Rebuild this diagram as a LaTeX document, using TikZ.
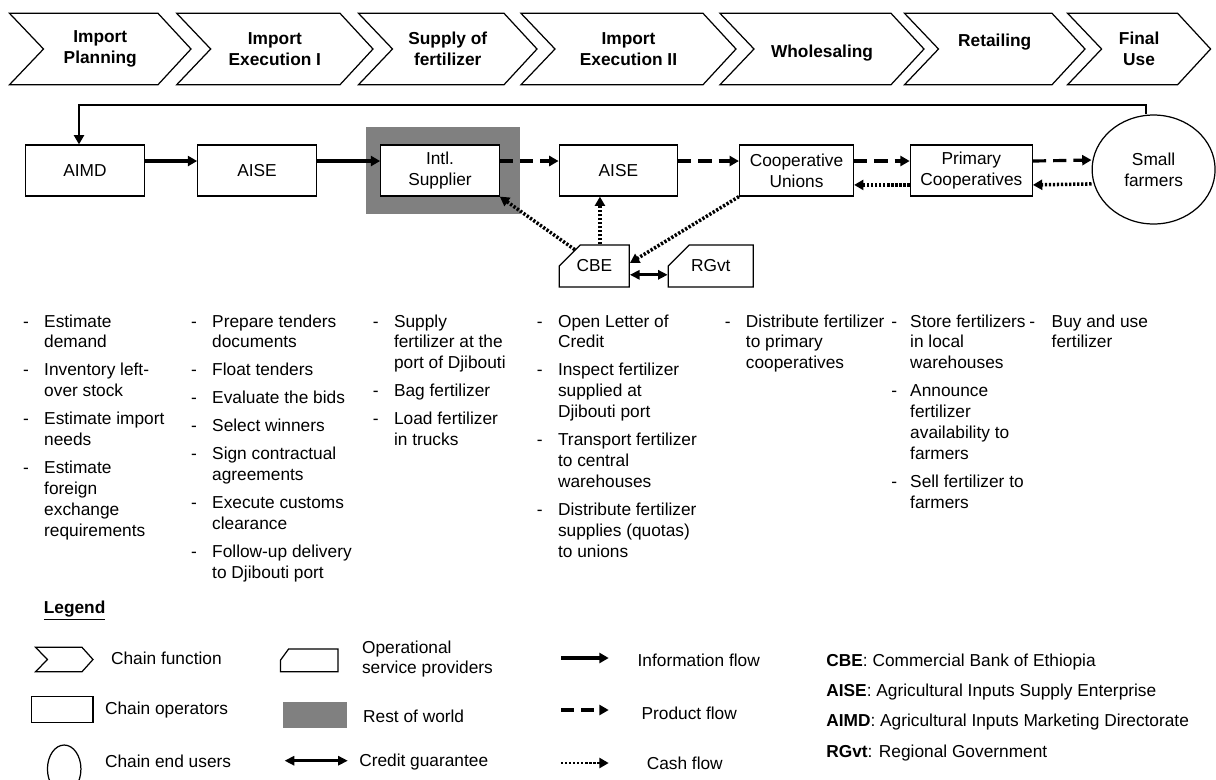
\documentclass[tikz,border=0pt]{standalone}
\usepackage{fontspec}
\setmainfont{Liberation Sans}
\usetikzlibrary{arrows.meta,shapes.geometric,shapes.misc}

\newcommand{\dsh}[1][12pt]{\makebox[#1][l]{-}}
\newcommand{\nod}[1][12pt]{\hspace*{#1}}

\begin{document}
\begin{tikzpicture}[x=0.02cm, y=-0.02cm,
        font=\fontsize{9.85}{11.9}\selectfont,
        chev/.style={draw, line width=0.7pt},
        chevtext/.style={font=\fontsize{9.85}{11.9}\selectfont\bfseries, align=center},
        operator/.style={draw, line width=0.7pt, fill=white, align=center, minimum width=2.37cm, minimum height=1.02cm, inner sep=1pt},
        enduser/.style={draw, ellipse, line width=0.7pt, align=center, inner sep=0pt},
        provider/.style={draw, chamfered rectangle, chamfered rectangle corners=north west, chamfered rectangle xsep=9.6pt, chamfered rectangle ysep=8.5pt, line width=0.7pt, inner sep=0pt},
        world/.style={fill=black!50, inner sep=0pt},
        flowtip/.style={-{Triangle[length=5.3pt,width=5.7pt]}},
        info/.style={flowtip, line width=1.8pt},
        product/.style={flowtip, line width=1.8pt, dash pattern=on 7.5pt off 4pt},
        cash/.style={flowtip, line width=2pt, dash pattern=on 1.3pt off 1pt},
        credit/.style={{Triangle[length=5.5pt,width=5.2pt]}-{Triangle[length=5.5pt,width=5.2pt]}, line width=1.6pt},
        steps/.style={anchor=base west, inner sep=0pt},
        legtext/.style={anchor=west, inner sep=0pt, align=left}
    ]
    \useasboundingbox (0,0) rectangle (1216,779);

    % chain functions
    \foreach \lx/\rx/\ly/\nm/\lab in {9.5/158/49/imp/{Import\\Planning}, 176.7/340/49/exe/{Import\\Execution I}, 358.5/504/49/sup/{Supply of\\fertilizer}, 521/703/49/exetwo/{Import\\Execution II}, 720/891/53/whs/{Wholesaling}, 904.5/1052/42/ret/{Retailing}, 1067.6/1177.6/49/fin/{Final\\Use}}{
        \draw[chev] (\lx,13.3) -- (\rx,13.3) -- (\rx+33,49) -- (\rx,84.7) -- (\lx,84.7) -- (\lx+34,49) -- cycle;
        \node[chevtext] (\nm) at ({(\lx+\rx+33)/2},\ly) {\lab};
    }

    % operators
    \node[world, minimum width=3.07cm, minimum height=1.74cm] (row) at (443.2,170.8) {};
    \node[operator] (aimd) at (85,170.5) {AIMD};
    \node[operator] (aise) at (257,170.5) {AISE};
    \node[operator] (intl) at (440,170.5) {Intl.\\Supplier};
    \node[operator] (aisetwo) at (618.4,170.5) {AISE};
    \node[operator, minimum width=2.28cm] (coop) at (796.5,170.5) {Cooperative\\Unions};
    \node[operator, minimum width=2.44cm] (prim) at (971.3,170.5) {Primary\\Cooperatives};
    \node[enduser, minimum width=2.46cm, minimum height=2.18cm] (farm) at (1153.6,169.5) {Small\\farmers};
    \node[provider, minimum width=1.4cm, minimum height=0.73cm] (cbe) at (594.3,266) {CBE};
    \node[provider, minimum width=1.7cm, minimum height=0.73cm] (rgvt) at (710.8,266) {RGvt};

    % flows
    \coordinate (fbtop) at (79,105);
    \coordinate (fbs) at ([xshift=-4.3pt]farm.north);
    \draw[flowtip, line width=1.4pt] (fbs) |- (fbtop) -- (fbtop |- aimd.north);
    \draw[info] ([yshift=5.4pt]aimd.east) -- ([yshift=5.4pt]aise.west);
    \draw[info] ([yshift=5.4pt]aise.east) -- ([yshift=5.4pt]intl.west);
    \draw[product] ([yshift=5.4pt]intl.east) -- ([yshift=5.4pt]aisetwo.west);
    \draw[product] ([yshift=5.4pt]aisetwo.east) -- ([yshift=5.4pt]coop.west);
    \draw[product] ([yshift=5.4pt]coop.east) -- ([yshift=5.4pt]prim.west);
    \draw[product] ([yshift=5.4pt]prim.east) -- ([yshift=5.4pt]farm.west);
    \draw[cash] ([yshift=-8.2pt]farm.west) -- ([yshift=-8.2pt]prim.east);
    \draw[cash] ([yshift=-8.2pt]prim.west) -- ([yshift=-8.2pt]coop.east);
    \draw[cash] (coop.south west) -- ([yshift=1.7pt]cbe.east);
    \draw[cash] (cbe.140) -- (intl.south east);
    \coordinate (cbeup) at ([xshift=3.2pt]cbe.north);
    \draw[cash] (cbeup) -- (cbeup |- aisetwo.south);
    \draw[credit] ([yshift=-5pt]cbe.east) -- ([yshift=-5pt]rgvt.west);

    % activities
    \node[steps] (actimp) at (22.8,327) {\begin{tabular}[t]{@{}l@{}}
        \dsh Estimate\\ \nod demand\\[4pt]
        \dsh Inventory left-\\ \nod over stock\\[4pt]
        \dsh Estimate import\\ \nod needs\\[4pt]
        \dsh Estimate\\ \nod foreign\\ \nod exchange\\ \nod requirements
    \end{tabular}};
    \node[steps] (actexe) at (190.8,327) {\begin{tabular}[t]{@{}l@{}}
        \dsh Prepare tenders\\ \nod documents\\[4pt]
        \dsh Float tenders\\[4pt]
        \dsh Evaluate the bids\\[4pt]
        \dsh Select winners\\[4pt]
        \dsh Sign contractual\\ \nod agreements\\[4pt]
        \dsh Execute customs\\ \nod clearance\\[4pt]
        \dsh Follow-up delivery\\ \nod to Djibouti port
    \end{tabular}};
    \node[steps] (actsup) at (372.6,327) {\begin{tabular}[t]{@{}l@{}}
        \dsh Supply\\ \nod fertilizer at the\\ \nod port of Djibouti\\[4pt]
        \dsh Bag fertilizer\\[4pt]
        \dsh Load fertilizer\\ \nod in trucks
    \end{tabular}};
    \node[steps] (actexetwo) at (536.6,327) {\begin{tabular}[t]{@{}l@{}}
        \dsh Open Letter of\\ \nod Credit\\[4pt]
        \dsh Inspect fertilizer\\ \nod supplied at\\ \nod Djibouti port\\[4pt]
        \dsh Transport fertilizer\\ \nod to central\\ \nod warehouses\\[4pt]
        \dsh Distribute fertilizer\\ \nod supplies (quotas)\\ \nod to unions
    \end{tabular}};
    \node[steps] (actwhs) at (724.5,327) {\begin{tabular}[t]{@{}l@{}}
        \dsh Distribute fertilizer\\ \nod to primary\\ \nod cooperatives
    \end{tabular}};
    \node[steps] (actret) at (891,327) {\begin{tabular}[t]{@{}l@{}}
        \dsh[8pt] Store fertilizers\\ \nod[8pt] in local\\ \nod[8pt] warehouses\\[4pt]
        \dsh[8pt] Announce\\ \nod[8pt] fertilizer\\ \nod[8pt] availability to\\ \nod[8pt] farmers\\[4pt]
        \dsh[8pt] Sell fertilizer to\\ \nod[8pt] farmers
    \end{tabular}};
    \node[steps] (actfin) at (1029,327) {\begin{tabular}[t]{@{}l@{}}
        \dsh[10pt] Buy and use\\ \nod[10pt] fertilizer
    \end{tabular}};

    % legend
    \node[font=\fontsize{9.85}{11.9}\selectfont\bfseries, anchor=west, inner sep=0pt] (leg) at (43.5,610.7) {\underline{Legend}};
    \draw[chev] (35.6,647.3) -- (82,647.3) -- (93,659.5) -- (82,671.7) -- (35.6,671.7) -- (47.4,659.5) -- cycle;
    \node[legtext] (lgcf) at (110.7,658) {Chain function};
    \node[draw, line width=0.7pt, minimum width=1.226cm, minimum height=0.52cm, inner sep=0pt] (lgop) at (62.25,709.7) {};
    \node[legtext] (lgoptxt) at (104.7,710) {Chain operators};
    \node[enduser, minimum width=0.67cm, minimum height=0.96cm] (lgeu) at (64.2,769) {};
    \node[legtext] (lgeutxt) at (104.7,761.7) {Chain end users};
    \draw[chev] (288.6,649) -- (338,649) -- (338,671.7) -- (280.6,671.7) -- (280.6,660) -- cycle;
    \node[legtext] (lgsptxt) at (361.7,659) {Operational\\service providers};
    \node[world, minimum width=1.29cm, minimum height=0.53cm] (lgrow) at (314.8,715) {};
    \node[legtext] (lgrowtxt) at (362.8,716) {Rest of world};
    \coordinate (lgcra) at (284.6,760.7);
    \coordinate (lgcrb) at (347.8,760.7);
    \draw[credit] (lgcra) -- (lgcrb);
    \node[legtext] (lgcrtxt) at (358.9,762) {Credit guarantee};

    \coordinate (lginfa) at (561,658);
    \coordinate (lginfb) at (608.7,658);
    \draw[info] (lginfa) -- (lginfb);
    \node[legtext] (lginftxt) at (637.3,660) {Information flow};
    \coordinate (lgprda) at (561,710);
    \coordinate (lgprdb) at (608.7,710);
    \draw[product] (lgprda) -- (lgprdb);
    \node[legtext] (lgprdtxt) at (641.3,713) {Product flow};
    \coordinate (lgcsha) at (561,763);
    \coordinate (lgcshb) at (608.7,763);
    \draw[cash, line width=1.3pt] (lgcsha) -- (lgcshb);
    \node[legtext] (lgcshtxt) at (646.4,763) {Cash flow};

    \node[legtext] (dcbe) at (826,661.7) {\textbf{CBE}: Commercial Bank of Ethiopia};
    \node[legtext] (daise) at (826,691.7) {\textbf{AISE}: Agricultural Inputs Supply Enterprise};
    \node[legtext] (daimd) at (826,722) {\textbf{AIMD}: Agricultural Inputs Marketing Directorate};
    \node[legtext] (drgvt) at (826,753) {\textbf{RGvt}: Regional Government};
\end{tikzpicture}
\end{document}
